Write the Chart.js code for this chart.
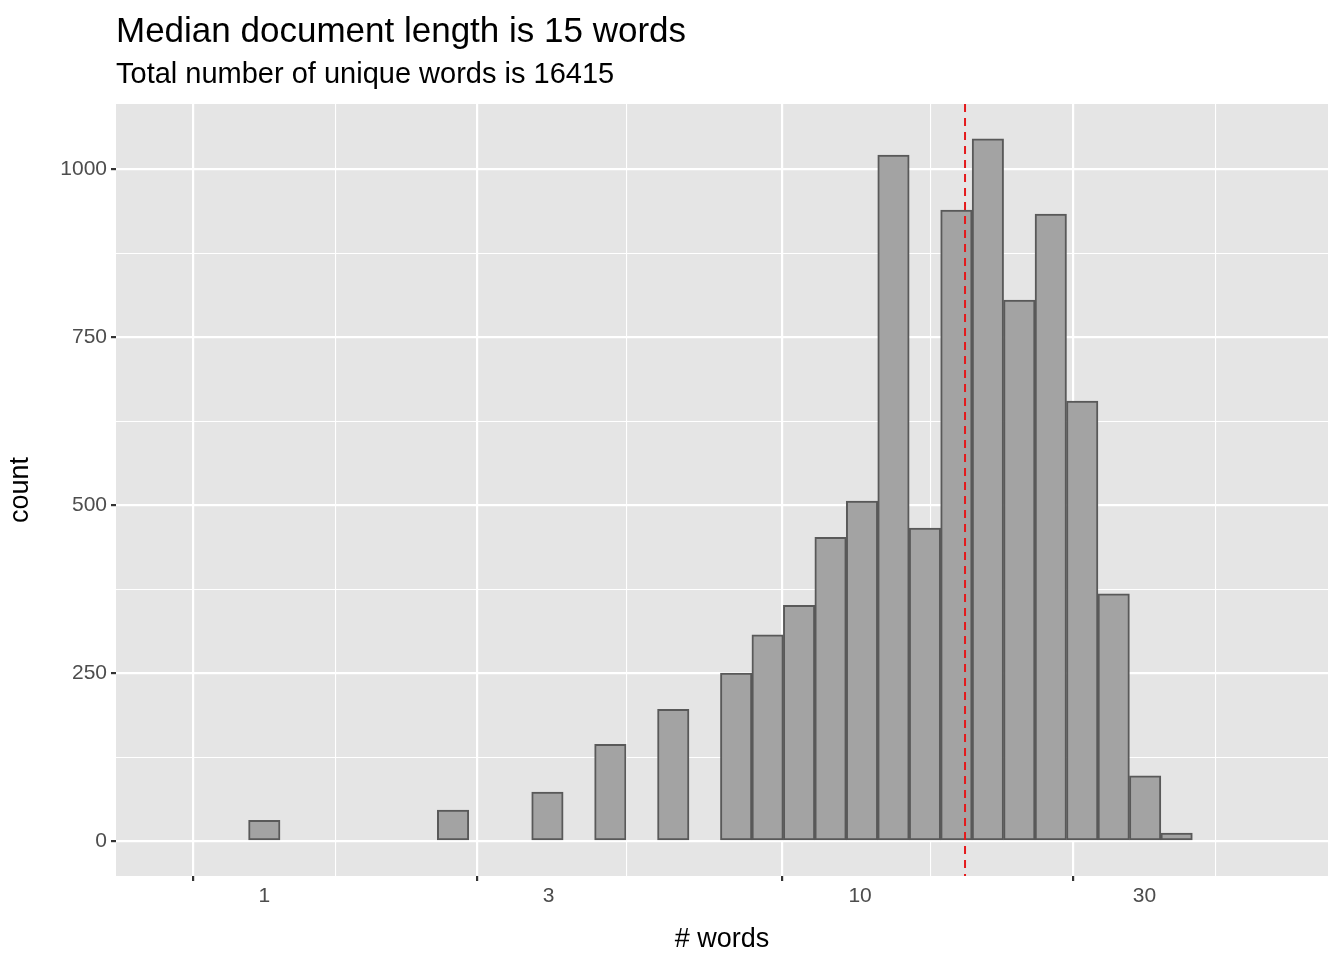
<!DOCTYPE html>
<html>
<head>
<meta charset="utf-8">
<script src="https://cdn.jsdelivr.net/npm/chart.js@4/dist/chart.umd.min.js"></script>
<style>
  body { margin: 0; background: #fff; font-family: "Liberation Sans", Arial, sans-serif; }
  #wrap { position: relative; width: 1344px; height: 960px; }
  canvas { position: absolute; left: 0; top: 0; }
  .t { position: absolute; left: 116px; color: #000; white-space: nowrap; line-height: 1; }
</style>
</head>
<body>
<div id="wrap">
  <canvas id="hist" width="1344" height="960"></canvas>
  <div class="t" style="top:12px;font-size:35px;">Median document length is 15 words</div>
  <div class="t" style="top:59px;font-size:29px;">Total number of unique words is 16415</div>
</div>
<script>
// 30 bins on log10 scale, centres from 1 to ~34 words
const binCount = 30;
const binStart = 0;          // log10(1)
const binWidth = 0.0528;     // log10 units
const counts = [31, 0, 0, 0, 0, 0, 46, 0, 0, 73, 0, 144, 0, 196, 0,
                250, 307, 351, 452, 506, 1021, 466, 939, 1045, 805, 933, 655, 368, 97, 12];
const medianWords = 15;
const xMajor = [1, 3, 10, 30];
const xMinor = [1.73, 5.48, 17.3];

const barData = counts.map((c, i) => ({ x: binStart + i * binWidth, y: c }));
const majorLogs = xMajor.map(v => Math.log10(v));

const panelBg = {
  id: "panelBg",
  beforeDraw(chart) {
    const { ctx, chartArea: a } = chart;
    ctx.save();
    ctx.fillStyle = "#e5e5e5";
    ctx.fillRect(a.left, a.top, a.right - a.left, a.bottom - a.top);
    ctx.restore();
  }
};

const medianLine = {
  id: "medianLine",
  afterDatasetsDraw(chart) {
    const { ctx, chartArea: a, scales } = chart;
    const px = scales.x.getPixelForValue(Math.log10(medianWords));
    ctx.save();
    ctx.strokeStyle = "#e41a1c";
    ctx.lineWidth = 2;
    ctx.setLineDash([8, 6]);
    ctx.beginPath();
    ctx.moveTo(px, a.top);
    ctx.lineTo(px, a.bottom);
    ctx.stroke();
    ctx.restore();
  }
};

const isMajorX = c => c.tick && majorLogs.some(m => Math.abs(m - c.tick.value) < 1e-6);
const isMajorY = c => c.tick && c.tick.value % 250 === 0;

new Chart(document.getElementById("hist"), {
  type: "bar",
  data: {
    datasets: [{
      data: barData,
      backgroundColor: "#a3a3a3",
      borderColor: "#595959",
      borderWidth: 2,
      borderSkipped: false,
      barPercentage: 1,
      categoryPercentage: 1
    }]
  },
  options: {
    responsive: false,
    animation: false,
    layout: { padding: { top: 104, right: 16, left: 0, bottom: 0 } },
    plugins: { legend: { display: false }, tooltip: { enabled: false } },
    scales: {
      x: {
        type: "linear",
        min: -0.1036,
        max: 1.64,
        afterBuildTicks(scale) {
          const vals = majorLogs.concat(xMinor.map(v => Math.log10(v))).sort((a, b) => a - b);
          scale.ticks = vals.map(v => ({ value: v }));
        },
        afterFit(scale) { scale.height = 84; },
        ticks: {
          autoSkip: false,
          maxRotation: 0,
          color: "#4d4d4d",
          font: { size: 21, family: "Liberation Sans" },
          padding: 3,
          callback: v => {
            const i = majorLogs.findIndex(m => Math.abs(m - v) < 1e-6);
            return i >= 0 ? String(xMajor[i]) : "";
          }
        },
        grid: {
          color: "#ffffff",
          lineWidth: c => isMajorX(c) ? 2.2 : 1.1,
          tickColor: c => isMajorX(c) ? "#333333" : "rgba(0,0,0,0)",
          tickLength: 5
        },
        border: { display: false },
        title: { display: true, text: "# words", color: "#000", font: { size: 27, family: "Liberation Sans" }, padding: { top: 4 } }
      },
      y: {
        min: -52,
        max: 1097,
        afterBuildTicks(scale) {
          const t = [];
          for (let v = 0; v <= 1000; v += 125) t.push({ value: v });
          scale.ticks = t;
        },
        afterFit(scale) { scale.width = 116; },
        ticks: {
          color: "#4d4d4d",
          font: { size: 21, family: "Liberation Sans" },
          padding: 4,
          callback: v => v % 250 === 0 ? String(v) : ""
        },
        grid: {
          color: "#ffffff",
          lineWidth: c => isMajorY(c) ? 2.2 : 1.1,
          tickColor: c => isMajorY(c) ? "#333333" : "rgba(0,0,0,0)",
          tickLength: 5
        },
        border: { display: false },
        title: { display: true, text: "count", color: "#000", font: { size: 27, family: "Liberation Sans" } }
      }
    }
  },
  plugins: [panelBg, medianLine]
});
</script>
</body>
</html>
